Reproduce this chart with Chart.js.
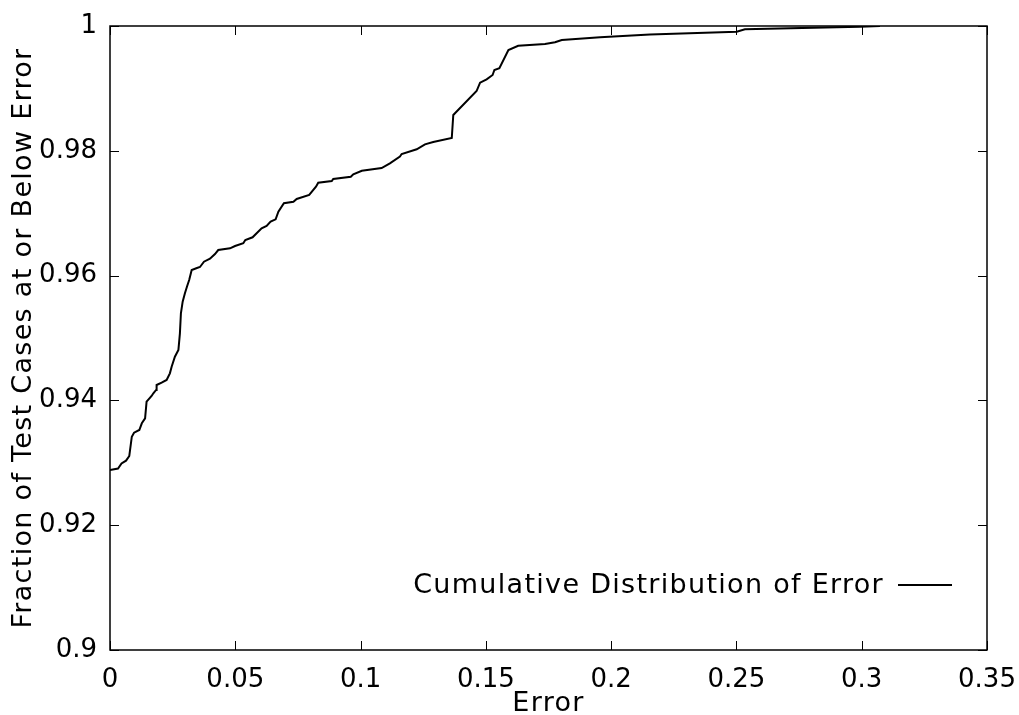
<!DOCTYPE html>
<html>
<head>
<meta charset="utf-8">
<title>Cumulative Distribution of Error</title>
<script src="https://cdn.jsdelivr.net/npm/chart.js@4.4.1/dist/chart.umd.min.js"></script>
<style>
  body { margin: 0; background: #fff; }
  canvas { display: block; }
</style>
</head>
<body>
<canvas id="cdf" width="1019" height="715"></canvas>
<script>
const seriesLabel = "Cumulative Distribution of Error";

// error value (x) and fraction of cases at or below it (y)
const errorValues = [
  0, 0.0032, 0.0046, 0.0064, 0.0077, 0.0087, 0.0096, 0.0117, 0.0127, 0.0140,
  0.0146, 0.0166, 0.0173, 0.0184, 0.0186, 0.0206, 0.0226, 0.0239, 0.0246, 0.0259,
  0.0273, 0.0279, 0.0283, 0.0290, 0.0299, 0.0308, 0.0316, 0.0326, 0.0347, 0.0359,
  0.0375, 0.0399, 0.0419, 0.0432, 0.0479, 0.0499, 0.0532, 0.0540, 0.0569, 0.0605,
  0.0625, 0.0641, 0.0661, 0.0672, 0.0694, 0.0732, 0.0745, 0.0795, 0.0822, 0.0831,
  0.0885, 0.0891, 0.0961, 0.0971, 0.1005, 0.1084, 0.1117, 0.1157, 0.1164, 0.1224,
  0.1257, 0.1290, 0.1364, 0.1370, 0.1463, 0.1477, 0.1503, 0.1527, 0.1534, 0.1554,
  0.1590, 0.1629, 0.1736, 0.1776, 0.1803, 0.1956, 0.2155, 0.2501, 0.2534, 0.2993,
  0.3073
];
const cumulativeFractions = [
  0.92885, 0.92909, 0.92989, 0.93034, 0.93109, 0.93418, 0.93482, 0.93526, 0.93633, 0.93713,
  0.93979, 0.94071, 0.94114, 0.94167, 0.94247, 0.94284, 0.94327, 0.94434, 0.9454, 0.947,
  0.94808, 0.95075, 0.95396, 0.95582, 0.95716, 0.95833, 0.9593, 0.9609, 0.96122, 0.96138,
  0.96223, 0.96271, 0.96346, 0.9641, 0.96437, 0.96474, 0.96518, 0.9657, 0.96614, 0.96758,
  0.96795, 0.96864, 0.96902, 0.97024, 0.97159, 0.97184, 0.97228, 0.97292, 0.97425, 0.97489,
  0.97516, 0.97548, 0.97585, 0.97623, 0.97681, 0.97724, 0.978, 0.97909, 0.97949, 0.98024,
  0.98104, 0.98141, 0.98205, 0.98574, 0.98958, 0.99091, 0.99146, 0.99215, 0.99295, 0.99322,
  0.99615, 0.99684, 0.99712, 0.99739, 0.99776, 0.99819, 0.99864, 0.99909, 0.99947, 0.99989,
  1.0
];

const xTicks = [0, 0.05, 0.1, 0.15, 0.2, 0.25, 0.3, 0.35];
const yTicks = [0.9, 0.92, 0.94, 0.96, 0.98, 1.0];

const fontFamily = "'DejaVu Sans', sans-serif";
const titleSpacing = "1.3px";
const fmt = (v) => String(Number(v.toFixed(2)));

// axis titles are drawn with the grid layer, before the datasets;
// tick labels sit on z 1 so they come after the spacing is reset
const titleLetterSpacing = {
  id: "titleLetterSpacing",
  beforeDraw(chart) { chart.ctx.letterSpacing = titleSpacing; },
  beforeDatasetsDraw(chart) { chart.ctx.letterSpacing = "0px"; },
};

// frame around the plot plus inward tick marks on all four sides
const frameTicks = {
  id: "frameTicks",
  afterDatasetsDraw(chart) {
    const { ctx, chartArea: a, scales } = chart;
    const len = 9;
    ctx.save();
    ctx.strokeStyle = "#000";
    ctx.lineWidth = 1;
    ctx.beginPath();
    xTicks.forEach((v) => {
      const px = Math.round(scales.x.getPixelForValue(v)) + 0.5;
      ctx.moveTo(px, a.bottom); ctx.lineTo(px, a.bottom - len);
      ctx.moveTo(px, a.top); ctx.lineTo(px, a.top + len);
    });
    yTicks.forEach((v) => {
      const py = Math.round(scales.y.getPixelForValue(v)) + 0.5;
      ctx.moveTo(a.left, py); ctx.lineTo(a.left + len, py);
      ctx.moveTo(a.right, py); ctx.lineTo(a.right - len, py);
    });
    ctx.stroke();
    ctx.lineWidth = 1.5;
    ctx.strokeRect(a.left, a.top, a.right - a.left, a.bottom - a.top);
    ctx.restore();
  },
};

// legend in the lower right: label text, then a line sample
const innerLegend = {
  id: "innerLegend",
  afterDraw(chart) {
    const { ctx, chartArea: a } = chart;
    const ds = chart.data.datasets[0];
    const yMid = a.bottom - 65;
    const lineRight = a.right - 35;
    const lineLeft = lineRight - 54;
    ctx.save();
    ctx.strokeStyle = ds.borderColor;
    ctx.lineWidth = ds.borderWidth;
    ctx.beginPath();
    ctx.moveTo(lineLeft, yMid);
    ctx.lineTo(lineRight, yMid);
    ctx.stroke();
    ctx.fillStyle = "#000";
    ctx.font = "27px " + fontFamily;
    ctx.letterSpacing = titleSpacing;
    ctx.textAlign = "right";
    ctx.textBaseline = "middle";
    ctx.fillText(ds.label, lineLeft - 14, yMid + 1);
    ctx.restore();
  },
};

new Chart(document.getElementById("cdf"), {
  type: "scatter",
  data: {
    datasets: [
      {
        label: seriesLabel,
        data: errorValues.map((x, i) => ({ x: x, y: cumulativeFractions[i] })),
        showLine: true,
        borderColor: "#000",
        borderWidth: 2,
        pointRadius: 0,
        tension: 0,
      },
    ],
  },
  options: {
    responsive: false,
    animation: false,
    layout: {
      padding: { top: 26, right: 32, left: 0, bottom: 0 },
    },
    plugins: {
      legend: { display: false },
      tooltip: { enabled: false },
    },
    scales: {
      x: {
        type: "linear",
        min: 0,
        max: 0.35,
        afterBuildTicks: (s) => { s.ticks = xTicks.map((v) => ({ value: v })); },
        afterFit: (s) => { s.height = 65; s.paddingLeft = 0; s.paddingRight = 0; },
        grid: { display: false },
        border: { display: false },
        ticks: {
          z: 1,
          color: "#000",
          padding: 7,
          maxRotation: 0,
          font: { family: fontFamily, size: 26 },
          callback: (v) => fmt(v),
        },
        title: {
          display: true,
          text: "Error",
          color: "#000",
          padding: { top: 0, bottom: 0 },
          font: { family: fontFamily, size: 27, lineHeight: 0.85 },
        },
      },
      y: {
        type: "linear",
        min: 0.9,
        max: 1.0,
        afterBuildTicks: (s) => { s.ticks = yTicks.map((v) => ({ value: v })); },
        afterFit: (s) => { s.width = 110; s.paddingTop = 0; s.paddingBottom = 0; },
        grid: { display: false },
        border: { display: false },
        ticks: {
          z: 1,
          color: "#000",
          padding: 5,
          font: { family: fontFamily, size: 26 },
          callback: (v) => fmt(v),
        },
        title: {
          display: true,
          text: "Fraction of Test Cases at or Below Error",
          color: "#000",
          padding: { top: 8, bottom: 0 },
          font: { family: fontFamily, size: 27 },
        },
      },
    },
  },
  plugins: [titleLetterSpacing, frameTicks, innerLegend],
});
</script>
</body>
</html>
